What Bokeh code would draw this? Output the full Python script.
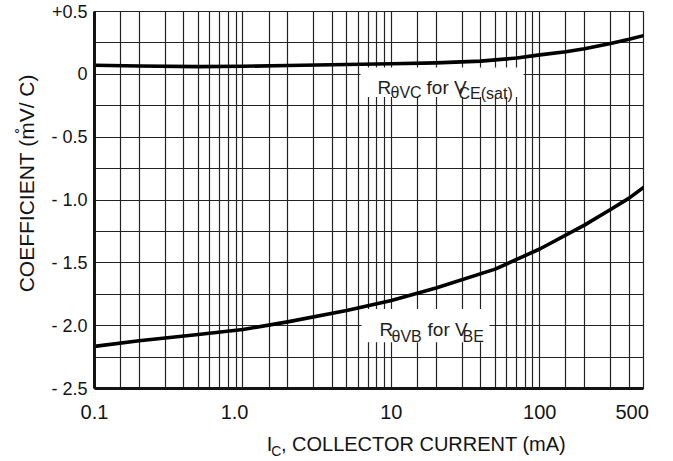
from math import pi
from bokeh.plotting import figure
from bokeh.models import (FixedTicker, Label, BoxAnnotation, Range1d, LinearAxis,
                          LinearScale, AllLabels)
from bokeh.embed import file_html
from bokeh.resources import INLINE

# ---- data ----
ic_vc = [0.1, 0.2, 0.5, 1, 2, 5, 10, 20, 40, 70, 100, 150, 200, 300, 400, 500]
coef_vc = [0.072, 0.066, 0.061, 0.064, 0.07, 0.078, 0.084, 0.091, 0.105, 0.13,
           0.155, 0.18, 0.204, 0.246, 0.279, 0.308]

ic_vb = [0.1, 0.2, 0.5, 1, 2, 5, 10, 20, 50, 100, 200, 300, 400, 500]
coef_vb = [-2.165, -2.12, -2.07, -2.03, -1.97, -1.88, -1.80, -1.70, -1.55,
           -1.39, -1.20, -1.076, -0.985, -0.90]

x_major = [0.1, 1, 10, 100, 500]
x_labels = ["0.1", "1.0\u00a0\u00a0\u00a0", "10", "100", "500\u00a0\u00a0\u00a0"]
x_minor = [0.15, 0.2, 0.3, 0.4, 0.5, 0.6, 0.7, 0.8, 0.9,
           1.5, 2, 3, 4, 5, 6, 7, 8, 9,
           15, 20, 30, 40, 50, 60, 70, 80, 90,
           150, 200, 300, 400]
y_major = [0.5, 0, -0.5, -1.0, -1.5, -2.0, -2.5]
y_labels = ["+0.5", "0", "- 0.5", "- 1.0", "- 1.5", "- 2.0", "- 2.5"]
y_minor = [0.25, -0.25, -0.75, -1.25, -1.75, -2.25]

x_title_parts = ["I", ", COLLECTOR CURRENT (mA)"]
x_title_sub = "C"
y_title = "COEFFICIENT (m\u030aV/ C)"

FONT = "Liberation Sans"
INK = "#141414"
GRID = "#222222"

# frame placed at canvas px: left 94, right 643, top 11, bottom 396
p = figure(width=665, height=461, x_axis_type="log",
           x_range=Range1d(0.1, 500), y_range=Range1d(-2.5, 0.5),
           output_backend="svg", toolbar_location=None, title=None,
           min_border_left=94, min_border_right=22,
           min_border_top=11, min_border_bottom=65)
p.background_fill_color = "white"
p.border_fill_color = "white"
p.outline_line_color = GRID
p.outline_line_width = 1.2

# pixel-mapped helper ranges for text placement outside the frame
p.extra_x_ranges = {"px": Range1d(94, 643)}
p.extra_x_scales = {"px": LinearScale()}
p.extra_y_ranges = {"py": Range1d(396, 11)}
p.extra_y_scales = {"py": LinearScale()}

# main axes
p.xaxis.ticker = FixedTicker(ticks=x_major, minor_ticks=x_minor)
p.yaxis.ticker = FixedTicker(ticks=y_major, minor_ticks=y_minor)
p.xaxis.major_label_overrides = {v: t for v, t in zip(x_major, x_labels)}
p.yaxis.major_label_overrides = {v: t for v, t in zip(y_major, y_labels)}

for ax in (p.xaxis, p.yaxis):
    ax.axis_line_color = INK
    ax.axis_line_width = 3
    ax.major_tick_line_color = None
    ax.minor_tick_line_color = None
    ax.major_tick_out = 0
    ax.minor_tick_out = 0
    ax.major_label_text_font = FONT
    ax.major_label_text_color = INK
p.xaxis.major_label_text_font_size = "20px"
p.xaxis.major_label_standoff = 12
p.yaxis.major_label_text_font_size = "18px"
p.yaxis.major_label_standoff = 7


def text_axis(side, rng, ticks, labels, size, standoff, orientation="horizontal"):
    kw = {"x_range_name": rng} if side == "below" else {"y_range_name": rng}
    ax = LinearAxis(ticker=FixedTicker(ticks=ticks), major_label_policy=AllLabels(), **kw)
    ax.major_label_overrides = {t: s for t, s in zip(ticks, labels)}
    ax.axis_line_color = None
    ax.major_tick_line_color = None
    ax.minor_tick_line_color = None
    ax.major_tick_out = 0
    ax.major_tick_in = 0
    ax.minor_tick_out = 0
    ax.major_label_text_font = FONT
    ax.major_label_text_color = INK
    ax.major_label_text_font_size = size
    ax.major_label_standoff = standoff
    ax.major_label_orientation = orientation
    p.add_layout(ax, side)
    return ax

# x-axis title: "I" + subscript "C" + ", COLLECTOR CURRENT (mA)"
text_axis("below", "px", [269.0, 423.0], x_title_parts, "20px", 7)
text_axis("below", "px", [275.7], [x_title_sub], "14px", -15)
# y-axis title (text end anchored at the tick)
text_axis("left", "py", [75], [y_title], "21px", 22, orientation=pi / 2)

# grid
for g in (p.xgrid, p.ygrid):
    g.grid_line_color = GRID
    g.grid_line_width = 1.2
    g.minor_grid_line_color = GRID
    g.minor_grid_line_width = 1.2


# helpers converting reference pixels into plot units (for in-frame text)
def dx(px):
    return 0.1 * 10 ** ((px - 94) / 148.4)


def dy(py):
    return (75 - py) / 128


# white boxes behind the curve labels
p.add_layout(BoxAnnotation(left=dx(360), right=dx(523), top=dy(68), bottom=dy(98),
                           fill_color="white", fill_alpha=1, line_color=None,
                           level="underlay"))
p.add_layout(BoxAnnotation(left=dx(361), right=dx(489), top=dy(314), bottom=dy(348),
                           fill_color="white", fill_alpha=1, line_color=None,
                           level="underlay"))

# curves
p.line(ic_vc, coef_vc, line_width=3.6, line_color="black", line_cap="round", line_join="round")
p.line(ic_vb, coef_vb, line_width=3.6, line_color="black", line_cap="round", line_join="round")


def lab(px, py, text, size):
    p.add_layout(Label(x=dx(px), y=dy(py), text=text, text_font=FONT,
                       text_font_size=size, text_color="#1e1e1e", text_align="left",
                       text_baseline="alphabetic"))


# curve labels
lab(377, 88, "R", "19px")
lab(390, 94, "\u03b8VC", "16px")
lab(426, 88, "for V", "19px")
lab(458, 95, "CE(sat)", "16px")

lab(379, 335, "R", "19px")
lab(391, 342, "\u03b8VB", "16px")
lab(427, 335, "for V", "19px")
lab(462, 342, "BE", "16px")

open("out.html", "w").write(file_html(p, INLINE))
